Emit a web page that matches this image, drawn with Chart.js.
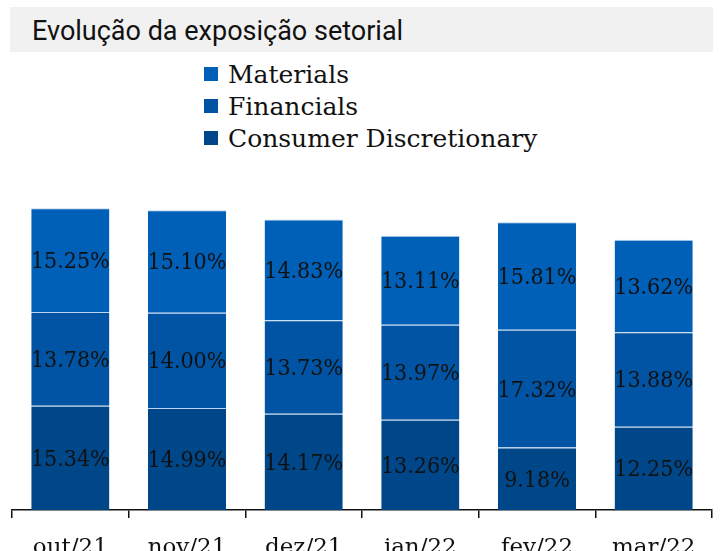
<!DOCTYPE html>
<html><head><meta charset="utf-8">
<script src="https://cdn.jsdelivr.net/npm/chart.js@4/dist/chart.umd.min.js"></script>
<style>
html,body{margin:0;padding:0;width:726px;height:551px;overflow:hidden;background:#fff;}
#title{position:absolute;left:10px;top:7px;width:703px;height:45px;background:#f1f1f1;}
#title span{position:absolute;left:22px;top:8px;font-family:Roboto,sans-serif;font-size:27px;color:#111;line-height:32px;}
#legend{position:absolute;left:204px;top:58px;}
.li{height:32px;display:flex;align-items:center;font-family:"DejaVu Serif",serif;font-size:25px;color:#111;}
.sw{width:14px;height:14px;margin-right:10px;}
#wrap{position:absolute;left:0;top:160px;width:726px;height:400px;}
</style></head><body>
<div id="title"><span>Evolução da exposição setorial</span></div>
<div id="legend"></div>
<div id="wrap"><canvas id="c"></canvas></div>
<script>
const categories = ["out/21","nov/21","dez/21","jan/22","fev/22","mar/22"];
const materials = [15.25, 15.10, 14.83, 13.11, 15.81, 13.62];
const financials = [13.78, 14.00, 13.73, 13.97, 17.32, 13.88];
const consumer = [15.34, 14.99, 14.17, 13.26, 9.18, 12.25];
const seriesNames = ["Materials","Financials","Consumer Discretionary"];
const colors = ["#005fb7","#0054a3","#00478a"];

const leg = document.getElementById('legend');
seriesNames.forEach((n,i)=>{
  const d=document.createElement('div');d.className='li';
  d.innerHTML='<div class="sw" style="background:'+colors[i]+'"></div><span>'+n+'</span>';
  leg.appendChild(d);
});

const labelPlugin = {
  id:'segLabels',
  afterDatasetsDraw(chart){
    const ctx=chart.ctx;
    ctx.save();
    ctx.font='23px "DejaVu Serif", serif';
    try{ctx.fontStretch='condensed';}catch(e){}
    ctx.fillStyle='#111';
    ctx.textAlign='center';
    ctx.textBaseline='middle';
    chart.data.datasets.forEach((ds,di)=>{
      chart.getDatasetMeta(di).data.forEach((bar,i)=>{
        const c=bar.getCenterPoint();
        ctx.fillText(ds.data[i].toFixed(2)+'%', c.x, c.y+2);
      });
    });
    ctx.restore();
  }
};

const segBorder='rgba(110,160,220,0.45)';
new Chart(document.getElementById('c'),{
  type:'bar',
  data:{labels:categories,datasets:[
    {label:seriesNames[2],data:consumer,backgroundColor:colors[2],borderColor:segBorder,borderWidth:{top:1,left:0,right:0,bottom:0},borderSkipped:false},
    {label:seriesNames[1],data:financials,backgroundColor:colors[1],borderColor:segBorder,borderWidth:{top:1,left:0,right:0,bottom:0},borderSkipped:false},
    {label:seriesNames[0],data:materials,backgroundColor:colors[0],borderColor:segBorder,borderWidth:{top:1,left:0,right:0,bottom:0},borderSkipped:false}
  ]},
  options:{
    responsive:true,maintainAspectRatio:false,animation:false,
    layout:{padding:{left:12,right:14,top:10,bottom:0}},
    datasets:{bar:{barPercentage:0.67,categoryPercentage:1}},
    plugins:{legend:{display:false},tooltip:{enabled:false}},
    scales:{
      x:{stacked:true,
        grid:{offset:true,drawOnChartArea:false,tickLength:8,color:'#111',lineWidth:1.5},
        border:{display:true,color:'#111',width:1.5},
        ticks:{font:{family:'"DejaVu Serif", serif',size:23},color:'#111',padding:16,maxRotation:0},
        afterFit(s){s.height=50;}
      },
      y:{stacked:true,display:false,min:0,max:50}
    }
  },
  plugins:[labelPlugin]
});
</script>
</body></html>
